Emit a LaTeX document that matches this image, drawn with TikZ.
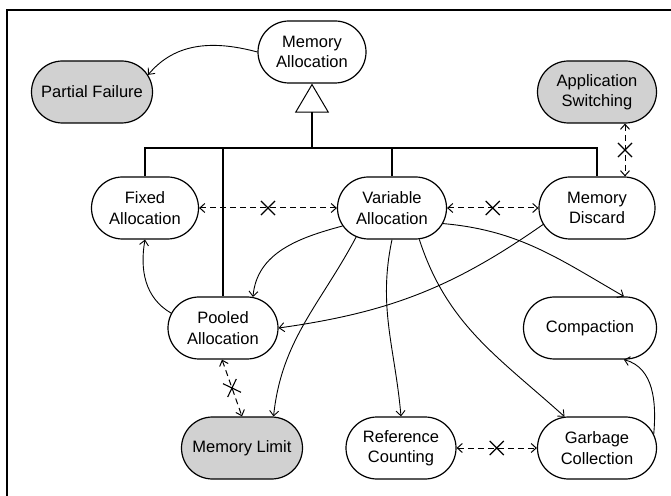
\documentclass[tikz,border=0pt]{standalone}
\usepackage{fontspec}
\setmainfont{Liberation Sans}
\usetikzlibrary{shapes.misc,arrows.meta}

\tikzset{
  pattern/.style={rounded rectangle, draw, line width=1.2pt, minimum height=62pt,
    inner sep=2pt, align=center, font=\fontsize{16.5}{20.5}\selectfont, fill=white},
  extpattern/.style={pattern, fill=black!18},
  uses/.style={line width=0.9pt, -{Straight Barb[length=5pt,width=9pt]}},
  conflict/.style={line width=1pt, dash pattern=on 6pt off 4pt,
    {Straight Barb[length=5pt,width=9pt]}-{Straight Barb[length=5pt,width=9pt]}},
  xmark/.style={cross out, draw, solid, line width=1.1pt, minimum size=13pt, inner sep=0pt},
  tree/.style={line width=1.1pt}
}

\begin{document}
\begin{tikzpicture}[x=1pt,y=1pt]
\useasboundingbox (0,0) rectangle (671,495);

% frame
\draw[line width=2.5pt] (7,-2) -- (7,485) -- (673,485);

% patterns
\node[pattern, minimum width=112pt] (ma) at (312,443) {Memory\\Allocation};
\node[extpattern, minimum width=125pt] (pf) at (92,403) {Partial Failure};
\node[extpattern, minimum width=123pt] (as) at (597,403) {Application\\Switching};
\node[pattern, minimum width=111pt] (fa) at (145,287) {Fixed\\Allocation};
\node[pattern, minimum width=113pt] (va) at (392,287) {Variable\\Allocation};
\node[pattern, minimum width=120pt] (md) at (597,287) {Memory\\Discard};
\node[pattern, minimum width=114pt] (pa) at (223,167) {Pooled\\Allocation};
\node[pattern, minimum width=137pt] (cp) at (590,167) {Compaction};
\node[extpattern, minimum width=125pt] (ml) at (242,47) {Memory Limit};
\node[pattern, minimum width=114pt] (rc) at (401,47) {Reference\\Counting};
\node[pattern, minimum width=123pt] (gc) at (597,47) {Garbage\\Collection};

% specialisation tree
\coordinate (bar) at (312,347);
\draw[tree, -{Triangle[open,length=29pt,width=34pt,line width=1pt]}] (bar) -- (ma.south);
\draw[tree] (fa.north) -- (fa.north |- bar) -- (md.north |- bar) -- (md.north);
\draw[tree] (pa.north) -- (pa.north |- bar);
\draw[tree] (va.north) -- (va.north |- bar);

% uses relations
\draw[uses] (ma.west) to[out=165,in=50] (pf.17);
\draw[uses] (pa.164) to[out=150,in=-100] (fa.south);
\draw[uses] (va.200) to[out=195,in=85] (pa.46);
\draw[uses] (md.197) to[out=215,in=8] (pa.east);
\draw[uses] (va.219) to[out=242,in=84] (ml.45);
\draw[uses] (va.south) to[out=-102,in=95] (rc.north);
\draw[uses] (va.-49) to[out=-72,in=138] (gc.136);
\draw[uses] (va.-17) to[out=-5,in=150] (cp.43);
\draw[uses] (gc.14) to[out=85,in=-15] (cp.-43);

% conflicts
\draw[conflict] (fa.east) -- node[xmark]{} (va.west);
\draw[conflict] (va.east) -- node[xmark]{} (md.west);
\draw[conflict] ([xshift=28pt]as.south) -- node[xmark]{} ([xshift=28pt]md.north);
\draw[conflict] ([xshift=-1pt]pa.south) -- node[xmark, sloped]{} (ml.north);
\draw[conflict] (rc.east) -- node[xmark]{} (gc.west);
\end{tikzpicture}
\end{document}
